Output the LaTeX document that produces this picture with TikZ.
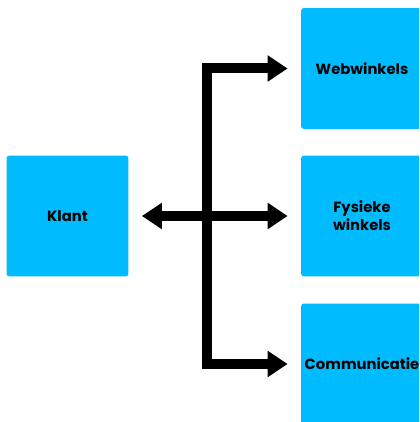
\documentclass[tikz,border=0pt]{standalone}
\usepackage{fontspec}
\setmainfont{Poppins}
\usetikzlibrary{arrows.meta}

\definecolor{boxblue}{HTML}{00BCFF}

\begin{document}
\begin{tikzpicture}[x=0.02cm, y=-0.02cm,
		box/.style={rectangle, fill=boxblue, rounded corners=0.06cm,
			minimum width=2.44cm, minimum height=2.42cm, inner sep=0pt,
			align=center, font=\bfseries\fontsize{8.4}{10.2}\selectfont},
		flow/.style={line width=0.2cm, line join=miter,
			{Triangle[length=0.4cm, width=0.5cm]}-{Triangle[length=0.4cm, width=0.5cm]},
			shorten <=0.26cm, shorten >=0.26cm}]
		\useasboundingbox (0,0) rectangle (419,422);
		\clip (0,0) rectangle (419,422);

		\draw
		(67.5, 216) node [box] (klant) {Klant}
		(362, 68.5) node [box] (web) {Webwinkels}
		(362, 216) node [box] (fysiek) {Fysieke\\winkels}
		(362, 364) node [box] (comm) {Communicatie};

		\coordinate (spine) at (207, 216);

		% bus to the three channels
		\draw[flow] (web.west) -- (web.west -| spine) -- (comm.west -| spine) -- (comm.west);
		\draw[flow] (klant.east) -- (fysiek.west);
	\end{tikzpicture}
\end{document}
